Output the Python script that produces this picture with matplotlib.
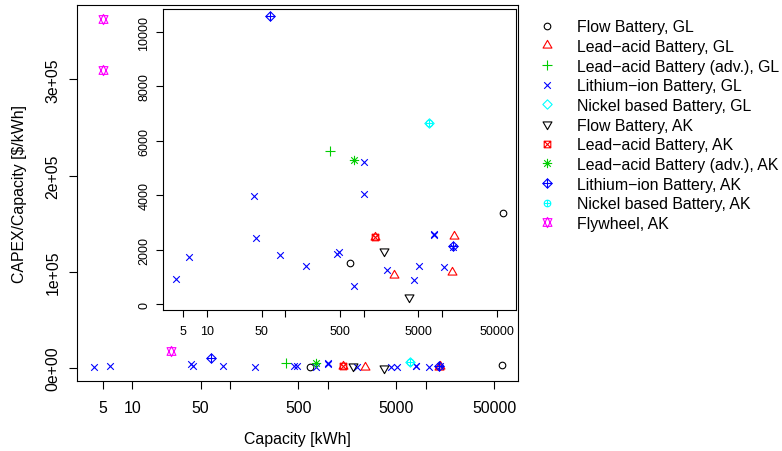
import numpy as np
import matplotlib
matplotlib.use("Agg")
import matplotlib.pyplot as plt
from matplotlib.path import Path
from matplotlib.ticker import NullLocator, FixedLocator, FixedFormatter

plt.rcParams['font.family'] = ['Liberation Sans', 'DejaVu Sans']

# ---------------- data ----------------
categories = ["Flow Battery, GL", "Lead\u2212acid Battery, GL", "Lead\u2212acid Battery (adv.), GL",
              "Lithium\u2212ion Battery, GL", "Nickel based Battery, GL", "Flow Battery, AK",
              "Lead\u2212acid Battery, AK", "Lead\u2212acid Battery (adv.), AK",
              "Lithium\u2212ion Battery, AK", "Nickel based Battery, AK", "Flywheel, AK"]
colors = ["black", "#FF0000", "#00CD00", "#0000FF", "#00FFFF", "black",
          "#FF0000", "#00CD00", "#0000FF", "#00FFFF", "#FF00FF"]
pchs = [1, 2, 3, 4, 5, 6, 7, 8, 9, 10, 11]

flow_gl_cap = [664, 60100]
flow_gl_cost = [1510, 3340]
lead_gl_cap = [1413, 2420, 13590, 14130]
lead_gl_cost = [2460, 1060, 1160, 2500]
leadadv_gl_cap = [377]
leadadv_gl_cost = [5613]
li_gl_cap = [4.07, 5.91, 39.9, 42.0, 85.7, 182, 453, 485, 762, 1012, 1012, 2009,
             4445, 5047, 7900, 7960, 10740, 13900]
li_gl_cost = [919, 1715, 3985, 2413, 1801, 1384, 1825, 1911, 674, 4060, 5233, 1262,
              882, 1409, 2560, 2545, 1348, 2100]
nickel_gl_cap = [6840]
nickel_gl_cost = [6654]
flow_ak_cap = [1822, 3760]
flow_ak_cost = [1960, 260]
lead_ak_cap = [1413]
lead_ak_cost = [2464]
leadadv_ak_cap = [762]
leadadv_ak_cost = [5294]
li_ak_cap = [63.3, 13850]
li_ak_cost = [10590, 2140]
nickel_ak_cap = [6840]
nickel_ak_cost = [6654]
fly_ak_cap = [5, 5, 24.9]
fly_ak_cost = [362400, 310100, 17670]

series_cap = [flow_gl_cap, lead_gl_cap, leadadv_gl_cap, li_gl_cap, nickel_gl_cap,
              flow_ak_cap, lead_ak_cap, leadadv_ak_cap, li_ak_cap, nickel_ak_cap, fly_ak_cap]
series_cost = [flow_gl_cost, lead_gl_cost, leadadv_gl_cost, li_gl_cost, nickel_gl_cost,
               flow_ak_cost, lead_ak_cost, leadadv_ak_cost, li_ak_cost, nickel_ak_cost, fly_ak_cost]

x_ticks = [5, 10, 50, 100, 500, 1000, 5000, 10000, 50000]
x_ticklabels = ["5", "10", "50", "", "500", "", "5000", "", "50000"]
main_yticks = [0, 100000, 200000, 300000]
main_yticklabels = ["0e+00", "1e+05", "2e+05", "3e+05"]
inset_yticks = [0, 2000, 4000, 6000, 8000, 10000]
inset_yticklabels = ["0", "2000", "4000", "6000", "8000", "10000"]

# ---------------- R-like plotting symbols ----------------
TRC0 = np.sqrt(4 * np.pi / (3 * np.sqrt(3)))
TRC1 = TRC0 * np.sqrt(3) / 2
TRC2 = TRC0 / 2
S2 = np.sqrt(2)


def seg(x0, y0, x1, y1):
    return Path([(x0, y0), (x1, y1)], [Path.MOVETO, Path.LINETO])


def poly(pts):
    return Path(list(pts) + [pts[0]],
                [Path.MOVETO] + [Path.LINETO] * (len(pts) - 1) + [Path.CLOSEPOLY])


def plus(h):
    return [seg(-h, 0, h, 0), seg(0, -h, 0, h)]


def cross(h):
    return [seg(-h, -h, h, h), seg(-h, h, h, -h)]


circle = Path.unit_circle()
up = poly([(0, TRC0), (TRC1, -TRC2), (-TRC1, -TRC2)])
down = poly([(0, -TRC0), (TRC1, TRC2), (-TRC1, TRC2)])
diamond = poly([(0, S2), (S2, 0), (0, -S2), (-S2, 0)])
square = poly([(-1, -1), (1, -1), (1, 1), (-1, 1)])
yc11 = 0.5 * (TRC2 + TRC0)
star_a = poly([(0, -TRC0), (TRC1, yc11), (-TRC1, yc11)])
star_b = poly([(0, TRC0), (TRC1, -yc11), (-TRC1, -yc11)])

PCH = {1: [circle], 2: [up], 3: plus(S2), 4: cross(1), 5: [diamond], 6: [down],
       7: [square] + cross(1), 8: cross(1) + plus(S2), 9: [diamond] + plus(S2),
       10: [circle] + plus(1), 11: [star_a, star_b]}
PCH = {k: Path.make_compound_path(*v) for k, v in PCH.items()}

XC0_PT = 3.3 * 0.72
MEW = 0.8


def rpoints(ax, x, y, pch, color, **kw):
    path = PCH[pch]
    m = np.max(np.abs(path.vertices))
    ax.plot(x, y, linestyle='none', marker=path, markersize=2 * m * XC0_PT,
            markerfacecolor='none', markeredgecolor=color, markeredgewidth=MEW, **kw)


# ---------------- figure ----------------
W, H = 782, 452
fig = plt.figure(figsize=(W / 100, H / 100), dpi=100)
fig.patch.set_facecolor('white')

FS = 11.4
FS_IN = 9.0


def style_axes(ax, fs, ticklen, xpad, ypad):
    ax.set_xscale('log')
    ax.xaxis.set_major_locator(FixedLocator(x_ticks))
    ax.xaxis.set_major_formatter(FixedFormatter(x_ticklabels))
    ax.xaxis.set_minor_locator(NullLocator())
    for s in ax.spines.values():
        s.set_linewidth(0.8)
        s.set_color('black')
    ax.tick_params(axis='both', which='major', direction='out', length=ticklen,
                   width=0.8, color='black', labelsize=fs)
    ax.tick_params(axis='x', pad=xpad)
    ax.tick_params(axis='y', pad=ypad, labelrotation=90)


# main axes
ax = fig.add_axes([76.7 / W, 1 - 382.3 / H, (518.3 - 76.7) / W, (382.3 - 6) / H])
style_axes(ax, FS, 5.8, 8.0, 6.0)
ax.set_xlim(10 ** 0.433, 10 ** 4.947)
ax.set_ylim(-13800, 377300)
ax.set_yticks(main_yticks)
ax.set_yticklabels(main_yticklabels)
for lab in ax.get_yticklabels():
    lab.set_va('center')
for cap, cost, pch, col in zip(series_cap, series_cost, pchs, colors):
    rpoints(ax, cap, cost, pch, col)

# inset axes
axi = fig.add_axes([163.3 / W, 1 - 311 / H, (516 - 163.3) / W, (311 - 9.7) / H])
axi.set_facecolor('white')
style_axes(axi, FS_IN, 4.7, 6.2, 4.6)
axi.set_xlim(10 ** 0.444, 10 ** 4.945)
axi.set_ylim(-220, 10857)
axi.set_yticks(inset_yticks)
axi.set_yticklabels(inset_yticklabels)
for lab in axi.get_yticklabels():
    lab.set_va('center')
for cap, cost, pch, col in zip(series_cap, series_cost, pchs, colors):
    rpoints(axi, cap, cost, pch, col)

# axis titles
fig.text(297.5 / W, 1 - 440 / H, "Capacity [kWh]", ha='center', va='center', fontsize=FS)
fig.text(20 / W, 1 - 194 / H, "CAPEX/Capacity [$/kWh]", ha='center', va='center',
         rotation=90, fontsize=FS)

# legend (overlay in pixel coordinates)
axl = fig.add_axes([0, 0, 1, 1])
axl.set_xlim(0, W)
axl.set_ylim(H, 0)
axl.axis('off')
row0, step = 26.7, 19.67
for i, (name, pch, col) in enumerate(zip(categories, pchs, colors)):
    yy = row0 + i * step
    rpoints(axl, [546.7], [yy], pch, col, clip_on=False)
    axl.text(576.7, yy + 0.358 * FS / 0.72, name, ha='left', va='baseline', fontsize=FS)

fig.savefig("out.png", dpi=100)
